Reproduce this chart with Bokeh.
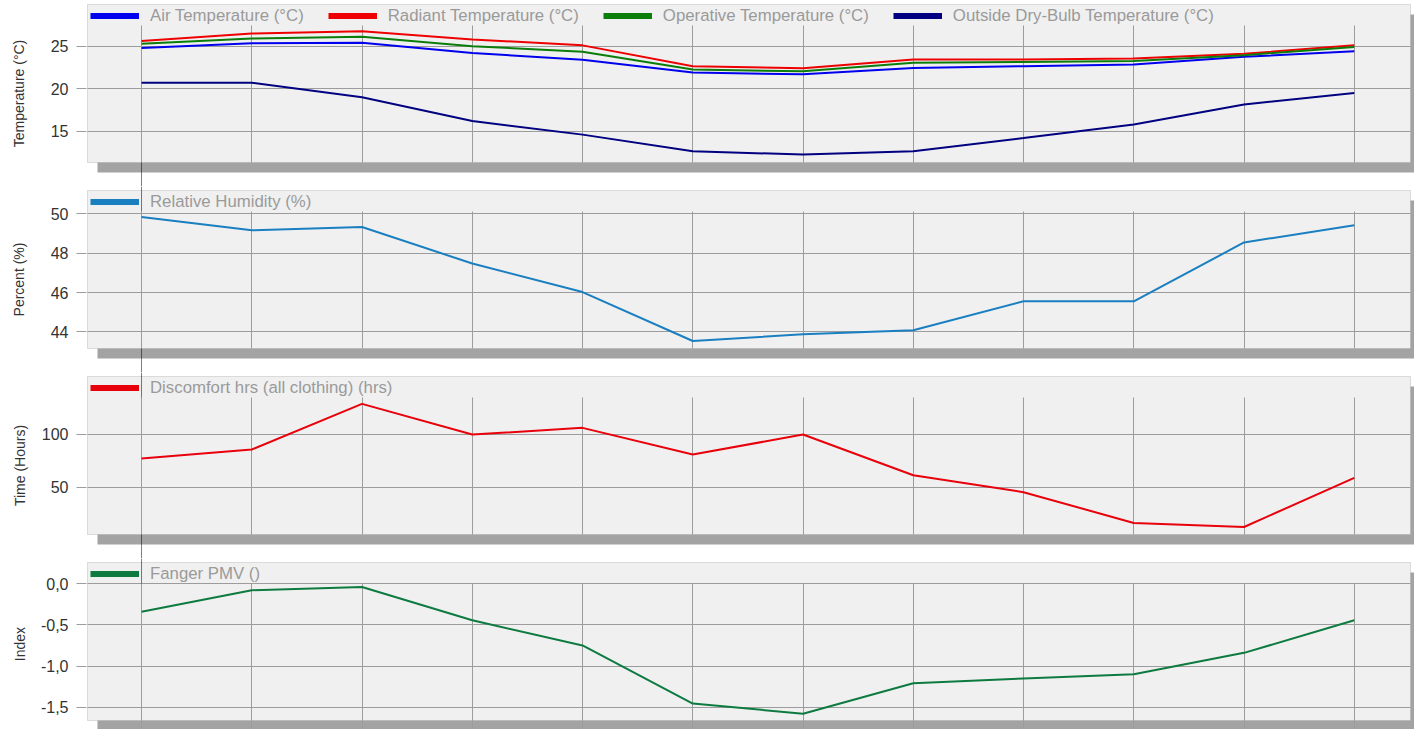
from bokeh.plotting import figure
from bokeh.layouts import column
from bokeh.models import FixedTicker, Legend, LegendItem, BoxAnnotation
from bokeh.embed import file_html
from bokeh.resources import INLINE

# ---- data: one value per month (index 0..11) ----
months = list(range(12))

air_temp = [24.8, 25.35, 25.4, 24.2, 23.4, 21.9, 21.7, 22.45, 22.65, 22.85, 23.75, 24.4]
radiant_temp = [25.6, 26.5, 26.75, 25.8, 25.1, 22.65, 22.4, 23.45, 23.45, 23.55, 24.1, 25.1]
operative_temp = [25.3, 25.9, 26.1, 25.0, 24.35, 22.25, 22.05, 23.05, 23.15, 23.25, 23.95, 24.9]
outside_temp = [20.7, 20.7, 19.0, 16.2, 14.6, 12.65, 12.25, 12.65, 14.2, 15.8, 18.15, 19.5]
rel_humidity = [49.85, 49.17, 49.34, 47.48, 46.03, 43.54, 43.88, 44.09, 45.56, 45.56, 48.55, 49.43]
discomfort_hrs = [77.1, 85.6, 128.6, 99.7, 106.0, 80.8, 99.7, 61.3, 45.3, 16.3, 12.5, 58.8]
fanger_pmv = [-0.34, -0.08, -0.04, -0.445, -0.75, -1.456, -1.578, -1.21, -1.15, -1.10, -0.84, -0.445]

temp_ticks = [15, 20, 25]
rh_ticks = [44, 46, 48, 50]
hrs_ticks = [50, 100]
pmv_ticks = [-1.5, -1.0, -0.5, 0.0]
pmv_tick_labels = ["-1,5", "-1,0", "-0,5", "0,0"]

# ---- styling / geometry ----
FONT = "Liberation Sans"
PAGE_W = 1414
PANEL_LEFT = 87          # px, left edge of each panel box
PANEL_RIGHT = 1410       # px, right edge of each panel box
FRAME_LEFT = 86          # frame starts 1px left of the box so its outline stays visible
PANEL_H = 158
TOP_PAD = 4
HEADER_PX = 21           # legend strip above the gridded area
SHADOW_PX = 10
X0, X1 = -0.49, 11.51    # data extent of the panel box
KX = (PANEL_RIGHT - PANEL_LEFT) / (X1 - X0)

BG = "#f0f0f0"
EDGE = "#999999"
GRID = "#9c9c9c"
SHADOW = "#a3a3a3"
LEGEND_TXT = "#9a9a9a"
TICK_TXT = "#333333"

panels = [
    dict(title="Temperature (°C)", ticks=temp_ticks, labels=None,
         y0=11.32, k=8.5, title_standoff=21,
         series=[("Air Temperature (°C)", "#0000ee", air_temp),
                 ("Radiant Temperature (°C)", "#ee0000", radiant_temp),
                 ("Operative Temperature (°C)", "#0a7d0a", operative_temp),
                 ("Outside Dry-Bulb Temperature (°C)", "#000080", outside_temp)]),
    dict(title="Percent (%)", ticks=rh_ticks, labels=None,
         y0=43.16, k=19.67, title_standoff=21,
         series=[("Relative Humidity (%)", "#1a7fc0", rel_humidity)]),
    dict(title="Time (Hours)", ticks=hrs_ticks, labels=None,
         y0=5.4, k=1.06, title_standoff=11,
         series=[("Discomfort hrs (all clothing) (hrs)", "#e8000b", discomfort_hrs)]),
    dict(title="Index", ticks=pmv_ticks, labels=pmv_tick_labels,
         y0=-1.661, k=82.4, title_standoff=10,
         series=[("Fanger PMV ()", "#0d7a40", fanger_pmv)]),
]

figs = []
n = len(panels)
for i, cfg in enumerate(panels):
    first, last = i == 0, i == n - 1
    bottom_pad = 9 if last else 24
    height = TOP_PAD + PANEL_H + bottom_pad
    k = cfg["k"]
    y0 = cfg["y0"]
    y1 = y0 + PANEL_H / k
    grid_top = y1 - HEADER_PX / k
    y_start = y0 - bottom_pad / k
    y_end = y1 + TOP_PAD / k
    x_start = X0 - (PANEL_LEFT - FRAME_LEFT) / KX
    x_end = X1 + (PAGE_W - PANEL_RIGHT) / KX

    p = figure(width=PAGE_W, height=height, x_range=(x_start, x_end), y_range=(y_start, y_end),
               output_backend="svg", toolbar_location=None, x_axis_location=None,
               min_border=0, min_border_left=FRAME_LEFT)
    p.background_fill_color = "white"
    p.border_fill_color = "white"
    p.outline_line_color = None

    # shadow first, then the panel box over it
    p.add_layout(BoxAnnotation(left=X0 + SHADOW_PX / KX, right=X1 + SHADOW_PX / KX,
                               top=y1 - SHADOW_PX / k, bottom=y0 - SHADOW_PX / k,
                               fill_color=SHADOW, fill_alpha=1, line_color=None,
                               level="image"))
    p.add_layout(BoxAnnotation(left=X0, right=X1, top=y1, bottom=y0,
                               fill_color=BG, fill_alpha=1, line_color=EDGE, line_width=1,
                               level="image"))

    # y axis: ticks only, labels in Arial-like font
    yt = FixedTicker(ticks=cfg["ticks"])
    ax = p.yaxis[0]
    ax.ticker = yt
    ax.axis_line_color = None
    ax.major_tick_in = 0
    ax.major_tick_out = 10
    ax.major_tick_line_color = GRID
    ax.minor_tick_line_color = None
    ax.major_label_standoff = 8
    ax.major_label_text_font = FONT
    ax.major_label_text_font_size = "16px"
    ax.major_label_text_color = TICK_TXT
    if cfg["labels"]:
        ax.major_label_overrides = {t: s for t, s in zip(cfg["ticks"], cfg["labels"])}
    ax.axis_label = cfg["title"]
    ax.axis_label_text_font = FONT
    ax.axis_label_text_font_size = "14px"
    ax.axis_label_text_font_style = "normal"
    ax.axis_label_text_color = TICK_TXT
    ax.axis_label_standoff = cfg["title_standoff"]

    # grids, confined to the panel box
    p.ygrid.ticker = yt
    p.ygrid.grid_line_color = GRID
    p.ygrid.cross_bounds = (X0, X1)
    p.xgrid.ticker = FixedTicker(ticks=months)
    p.xgrid.grid_line_color = GRID
    # bottom panel: month ticks run down through the shadow
    p.xgrid.cross_bounds = (y_start if last else y0, grid_top)

    # cursor line at the first month, visible between panels and across headers
    if not last:
        p.add_layout(BoxAnnotation(left=months[0], right=months[0], top=y0, bottom=y_start,
                                   fill_alpha=0, line_color="black", line_width=1,
                                   level="overlay"))
    if not first:
        p.add_layout(BoxAnnotation(left=months[0], right=months[0], top=y_end, bottom=grid_top,
                                   fill_alpha=0, line_color="black", line_width=1,
                                   level="overlay"))

    # series and legend (legend swatches use a thicker stroke)
    items = []
    for name, color, vals in cfg["series"]:
        p.line(months, vals, line_color=color, line_width=2)
        swatch = p.line(x=[months[0]], y=[float("nan")], line_color=color, line_width=6)
        items.append(LegendItem(label=name, renderers=[swatch]))
    legend = Legend(items=items, orientation="horizontal", location="top_left",
                    margin=4, padding=1, spacing=24, label_standoff=11,
                    glyph_width=49, glyph_height=23, label_height=23,
                    label_text_font=FONT, label_text_font_size="16.8px",
                    label_text_color=LEGEND_TXT,
                    background_fill_alpha=0, border_line_color=None)
    p.add_layout(legend)
    figs.append(p)

layout = column(*figs, spacing=0)
open("out.html", "w").write(file_html(layout, INLINE))
